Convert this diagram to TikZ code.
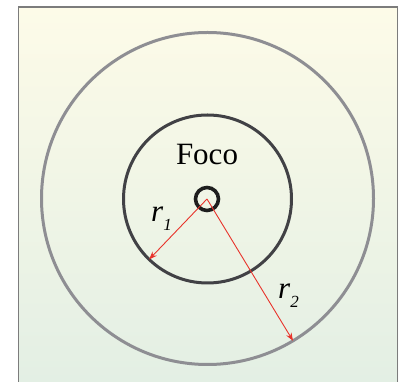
\documentclass[tikz,border=0pt]{standalone}
\usepackage{fontspec}
\setmainfont{Liberation Serif}
\usepackage{tikz}
\usetikzlibrary{arrows.meta,positioning}
\definecolor{bgtop}{HTML}{FDFBE8}
\definecolor{bgbot}{HTML}{E3EFE4}
\definecolor{framec}{HTML}{7C7C7C}
\definecolor{outerc}{HTML}{8E8E93}
\definecolor{innerc}{HTML}{414145}
\definecolor{focusc}{HTML}{1E1E1E}
\definecolor{radc}{HTML}{E8332B}
\tikzset{
  ring/.style 2 args={circle,draw=#1,line width=3pt,minimum size=#2,inner sep=0pt},
  lab/.style={font=\fontsize{31}{36}\selectfont,text=black,inner sep=0pt},
  rad/.style={-{Stealth[length=8pt,width=6pt]},line width=0.9pt,draw=radc},
}
\newcommand{\rsub}[1]{\textit{r}\raisebox{-0.28em}{\fontsize{17}{20}\selectfont\textit{#1}}}

\begin{document}
\begin{tikzpicture}[x=1pt,y=1pt]
        \useasboundingbox[fill=white] (0,0) rectangle (401,382);
        \shade[top color=bgtop,bottom color=bgbot] (18,0) rectangle (398,375);
        \draw[framec,line width=1.6pt] (18.5,-2) |- (397.5,375) -- (397.5,-2);
        \node[ring={outerc}{332pt}] (outer) at (207.5,183.5) {};
        \node[ring={innerc}{168pt}] (inner) at (207.5,183) {};
        \node[circle,draw=focusc,line width=3.6pt,minimum size=23pt,inner sep=0pt] (foco) at (207,183) {};
        \node[lab,anchor=base] (focolbl) at (207,217) {Foco};
        \node[lab,anchor=base west] (r1lbl) at (151,160) {\rsub{1}};
        \node[lab,anchor=base west] (r2lbl) at (278,83) {\rsub{2}};
        \coordinate (e1) at (inner.226);
        \coordinate (e2) at (outer.301.5);
        \draw[rad,shorten >=1.5pt] (foco.center) -- (e1);
        \draw[rad,shorten >=1.5pt] (foco.center) -- (e2);
      \end{tikzpicture}
\end{document}
